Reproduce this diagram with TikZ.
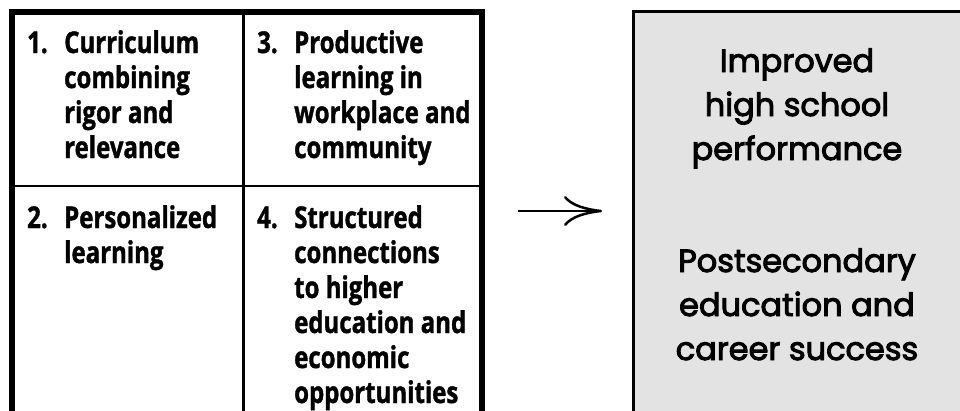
\documentclass[tikz,border=0pt]{standalone}
\usepackage{fontspec}
\setmainfont{Open Sans}[FakeStretch=0.8,BoldFeatures={FakeBold=1.2}]
\newfontfamily\outfont{Poppins}[FakeBold=3]
\usetikzlibrary{arrows.meta}
\definecolor{panelgray}{RGB}{227,227,227}
\tikzset{
  frame/.style={line width=6pt, line join=miter},
  divider/.style={line width=2.5pt},
  cell/.style={inner sep=0pt, align=left, font=\bfseries\fontsize{30}{35}\selectfont, anchor=base west},
  outtext/.style={inner sep=0pt, align=center, font=\outfont\fontsize{32}{44}\selectfont, anchor=base},
  flow/.style={line width=2.5pt, -{Computer Modern Rightarrow[length=38pt,width=30pt,line width=2.5pt]}}
}
\begin{document}
\begin{tikzpicture}[x=1pt,y=-1pt]
\useasboundingbox (0,0) rectangle (960,410);
\clip (0,0) rectangle (960,410);
% output panel
\fill[panelgray] (633,11) rectangle (970,420);
\draw[line width=3pt] (633,420) -- (633,11) -- (970,11);
% left grid
\draw[divider] (243.5,12) -- (243.5,420);
\draw[divider] (11.5,186) -- (482,186);
\draw[frame] (11.5,420) -- (11.5,12) -- (482,12) -- (482,420);
% cells (anchor at baseline of last line)
\node[cell] (n1) at (27,53) {1.};
\node[cell] (t1) at (64,158) {Curriculum\\combining\\rigor and\\relevance};
\node[cell] (n3) at (257,53) {3.};
\node[cell] (t3) at (294,158) {Productive\\learning in\\workplace and\\community};
\node[cell] (n2) at (27,228) {2.};
\node[cell] (t2) at (64,263) {Personalized\\learning};
\node[cell] (n4) at (257,228) {4.};
\node[cell] (t4) at (294,403) {Structured\\connections\\to higher\\education and\\economic\\opportunities};
% outcomes
\node[outtext] (out) at (797,360) {Improved\\high school\\performance\\[68pt]Postsecondary\\education and\\career success};
% arrow
\coordinate (a1) at (518,211);
\coordinate (a2) at (602,211);
\draw[flow] (a1) -- (a2);
\end{tikzpicture}
\end{document}
